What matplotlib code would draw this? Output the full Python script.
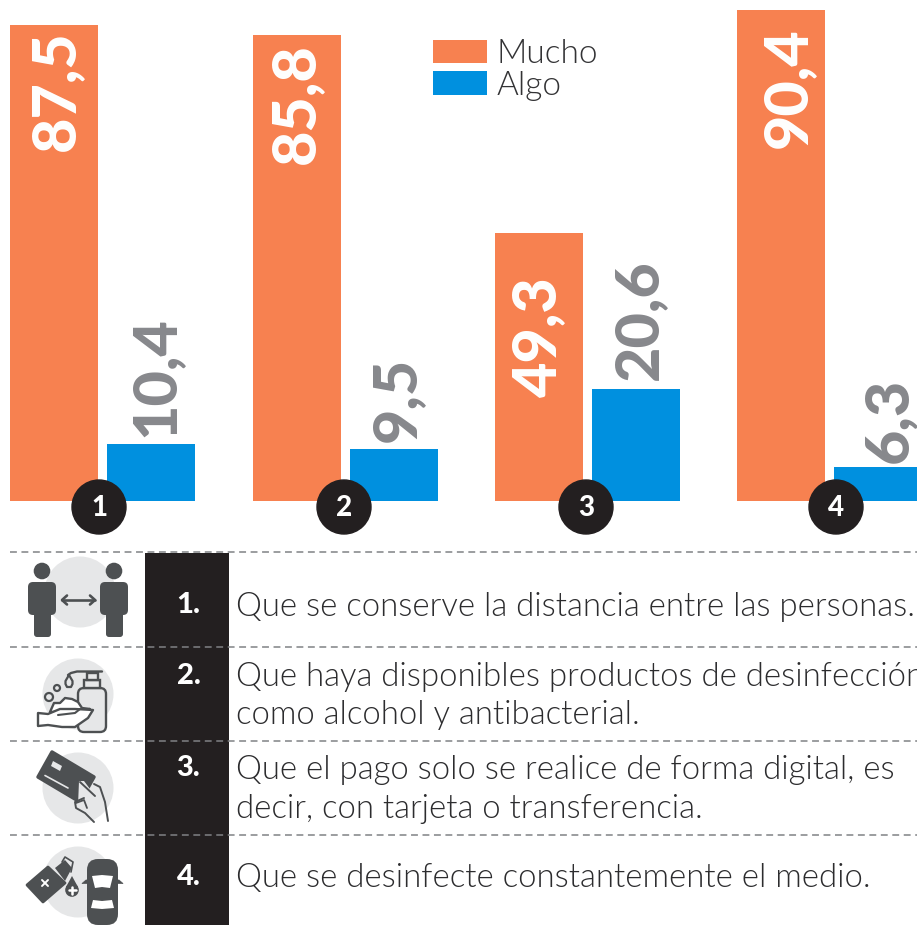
import matplotlib
matplotlib.use("Agg")
import matplotlib.pyplot as plt
from matplotlib.patches import Rectangle, Circle, FancyBboxPatch, Polygon
from matplotlib.lines import Line2D
from matplotlib.font_manager import FontProperties, fontManager

W, H = 917, 925
series_names = ["Mucho", "Algo"]
mucho = [87.5, 85.8, 49.3, 90.4]
algo = [10.4, 9.5, 20.6, 6.3]
labels_mucho = ["87,5", "85,8", "49,3", "90,4"]
labels_algo = ["10,4", "9,5", "20,6", "6,3"]
numbers = ["1", "2", "3", "4"]
row_numbers = ["1.", "2.", "3.", "4."]
rows = [
    ["Que se conserve la distancia entre las personas."],
    ["Que haya disponibles productos de desinfección", "como alcohol y antibacterial."],
    ["Que el pago solo se realice de forma digital, es", "decir, con tarjeta o transferencia."],
    ["Que se desinfecte constantemente el medio."],
]

ORANGE = "#f78150"; BLUE = "#0090df"; GREY = "#87888c"; BLACK = "#231f20"
DARK = "#4d5052"; LIGHT = "#e6e7e8"; DASH = "#808285"

def font(filename, size):
    for f in fontManager.ttflist:
        if f.fname.endswith("/" + filename):
            return FontProperties(fname=f.fname, size=size)
    return FontProperties(family="Open Sans", size=size)

fig = plt.figure(figsize=(W / 100, H / 100), dpi=100)
px = fig.add_axes([0, 0, 1, 1], zorder=3)
px.set_xlim(0, W); px.set_ylim(H, 0); px.axis("off"); px.patch.set_alpha(0)

# chart axes: value 0 sits at pixel row 501
ax = fig.add_axes([0, (H - 501) / H, 1, 501 / H], zorder=1)
ax.set_xlim(0, W); ax.set_ylim(0, 501 / 5.435); ax.axis("off")
lefts = [10, 253, 495, 737]
bw, step = 88, 97
b1 = ax.bar([l + bw / 2 for l in lefts], mucho, bw, color=ORANGE, label=series_names[0])
b2 = ax.bar([l + step + bw / 2 for l in lefts], algo, bw, color=BLUE, label=series_names[1])
val_font = font("Lato-Black.ttf", 44)
off_m = [(20, -126), (17, -129), (17, -164), (25, -138)]
off_a = [(22, 7), (21, 7), (21, 9), (29, 4)]
for bars, labs, offs, col in [(b1, labels_mucho, off_m, "white"), (b2, labels_algo, off_a, GREY)]:
    for r, t, o in zip(bars, labs, offs):
        ax.annotate(t, (r.get_x() + r.get_width() / 2, r.get_height()), xytext=o, textcoords="offset pixels",
                    rotation=90, rotation_mode="anchor", ha="left", va="baseline", color=col,
                    fontproperties=val_font, annotation_clip=False)
leg = ax.legend(loc="upper left", bbox_to_anchor=(433 / W, 1 - 39 / 501), frameon=False, borderpad=0, borderaxespad=0,
                prop=font("Lato-Light.ttf", 24), handlelength=1.62, handleheight=0.69, handletextpad=0.3, labelspacing=0.05)
for t in leg.get_texts():
    t.set_color("#333335")

# numbered circles
for cx, n in zip([99, 344, 586, 836], numbers):
    px.add_patch(Circle((cx, 507), 27, color=BLACK, zorder=5))
    px.text(cx, 507.5, n, color="white", ha="center", va="center", fontproperties=font("Lato-Heavy.ttf", 20), zorder=6)

# black column and dashes
px.add_patch(Rectangle((145, 553), 84, 372, color=BLACK, lw=0, zorder=2))
for y in [552, 647, 741, 835]:
    px.add_line(Line2D([10, 917], [y, y], color=DASH, lw=1.1, dashes=(4.5, 3), zorder=3))

body = font("Lato-Light.ttf", 23.7)
TXT = dict(color="#2c2c2e", fontproperties=body, va="center", ha="left", zorder=6)
NUM = dict(color="white", fontproperties=font("Lato-Heavy.ttf", 21), va="center", ha="center", zorder=6)
for lab, y in zip(row_numbers, [605, 676, 768, 877]):
    px.text(188.5, y, lab, **NUM)
line_y = [[606.5], [677.5, 715.5], [770, 808.5], [878.5]]
for lines, ys in zip(rows, line_y):
    for s, y in zip(lines, ys):
        px.text(235.5, y, s, **TXT)

def rr(x, y, w, h, r, **k):
    lw = k.pop("lw", 0)
    px.add_patch(FancyBboxPatch((x + r, y + r), w - 2 * r, h - 2 * r, boxstyle=f"round,pad={r}", lw=lw, **k))

OL = dict(color=DARK, lw=1.8, solid_capstyle="round", solid_joinstyle="round", zorder=4)
def pl(xs, ys, **k):
    d = dict(OL); d.update(k)
    px.plot(xs, ys, **d)
def poly(pts, **k):
    px.add_patch(Polygon(pts, **k))

for c in [(80, 592), (78, 694), (78, 788), (78, 882)]:
    px.add_patch(Circle(c, 35.5, color=LIGHT, lw=0, zorder=1))

# icon 1: two people and arrow
for hx, bx, lx in [(42, 28, 34), (114, 100, 106)]:
    px.add_patch(Circle((hx, 571), 8.3, color=DARK, lw=0))
    rr(bx, 582, 28, 33, 5, color=DARK)
    rr(lx, 605, 17, 32, 3, color=DARK)
pl([62, 95], [600, 600], lw=1.9)
pl([67, 62, 67], [595.5, 600, 604.5], lw=1.9)
pl([90, 95, 90], [595.5, 600, 604.5], lw=1.9)

# icon 2: soap bottle and hand
rr(78, 688, 28, 44, 6, fc=LIGHT, ec=DARK, lw=1.7, zorder=3)
poly([(84, 688), (84, 680), (100, 680), (100, 688)], fc=LIGHT, ec=DARK, lw=1.7, zorder=3)
poly([(87, 680), (87, 673), (98, 673), (98, 680)], fc=LIGHT, ec=DARK, lw=1.7, zorder=3)
pl([68, 71, 77, 102], [675, 673, 671.5, 671.5], lw=1.7)
poly([(69, 675), (72.5, 681), (72.5, 684), (71, 687), (67, 687), (65.5, 684), (65.5, 681)], fc="none", ec=DARK, lw=1.6, zorder=4, joinstyle="round")
px.add_patch(Circle((57, 688), 3, fc="none", ec=DARK, lw=1.6, zorder=4))
px.add_patch(Circle((49, 697), 4, fc="none", ec=DARK, lw=1.6, zorder=4))
poly([(50, 712), (54, 703), (60, 703), (65, 698), (72, 699), (78, 702), (82, 708), (90, 709), (70, 712)],
     fc="white", ec=DARK, lw=1.7, zorder=5, joinstyle="round")
poly([(38, 713), (48, 714), (60, 709), (75, 709), (93, 710), (88, 718), (75, 727), (62, 727), (48, 725), (38, 726)],
     fc="white", ec=DARK, lw=1.7, zorder=5, joinstyle="round")
pl([58, 75, 80], [715, 713, 709], lw=1.5, zorder=6)

# icon 3: card and hand
poly([(52, 752), (94, 777), (80, 802), (38, 777)], color=DARK, lw=2.5, zorder=3, joinstyle="round")
poly([(51, 766), (60, 771), (62, 766), (53, 761)], color=LIGHT, lw=0, zorder=4)
pl([45, 68], [775.5, 788], color=LIGHT, lw=1.2, zorder=4)
poly([(79, 781), (84, 781), (96, 797), (92, 803), (84, 812), (78, 806)], fc=LIGHT, ec="none", zorder=4)
pl([94, 100, 105, 108], [784, 787, 802, 821], lw=1.4, zorder=5)
pl([80, 95], [782, 796], lw=1.4, zorder=5)
pl([84, 75, 76, 85, 94], [798, 802, 808, 813, 822], lw=1.4, zorder=5)
pl([76, 84, 87], [803, 800, 808], lw=1.3, zorder=5)

# icon 4: sanitizer and car
poly([(48, 867), (65, 883), (43, 902), (27, 885)], color=DARK, lw=2, joinstyle="round", zorder=3)
poly([(55, 868), (65, 860), (72, 868), (65, 881)], color=DARK, lw=0, zorder=3)
pl([42, 48], [880, 886], color="white", lw=1.4); pl([48, 42], [880, 886], color="white", lw=1.4)
pl([62, 65, 73, 71], [862, 857, 862, 872], lw=1.2)
poly([(72, 876), (66, 887), (78, 887)], color=DARK, lw=0, zorder=3)
px.add_patch(Circle((72, 890), 6.8, color=DARK, lw=0, zorder=3))
pl([68.5, 75.5], [890, 890], color="white", lw=1.8); pl([72, 72], [886.5, 893.5], color="white", lw=1.8)
rr(87, 859, 31, 66, 11, color=DARK, zorder=3)
poly([(82, 883.5), (123, 883.5), (119, 880), (86, 880)], color=DARK, lw=0.5, zorder=3, joinstyle="round")
poly([(92, 876), (102, 875), (113, 876), (110, 888), (102, 887), (95, 888)], color="white", lw=0, zorder=4)
poly([(93, 900), (102, 901), (112, 900), (114, 908), (102, 909), (91, 908)], color="white", lw=0, zorder=4)

fig.savefig("out.png", dpi=100)
